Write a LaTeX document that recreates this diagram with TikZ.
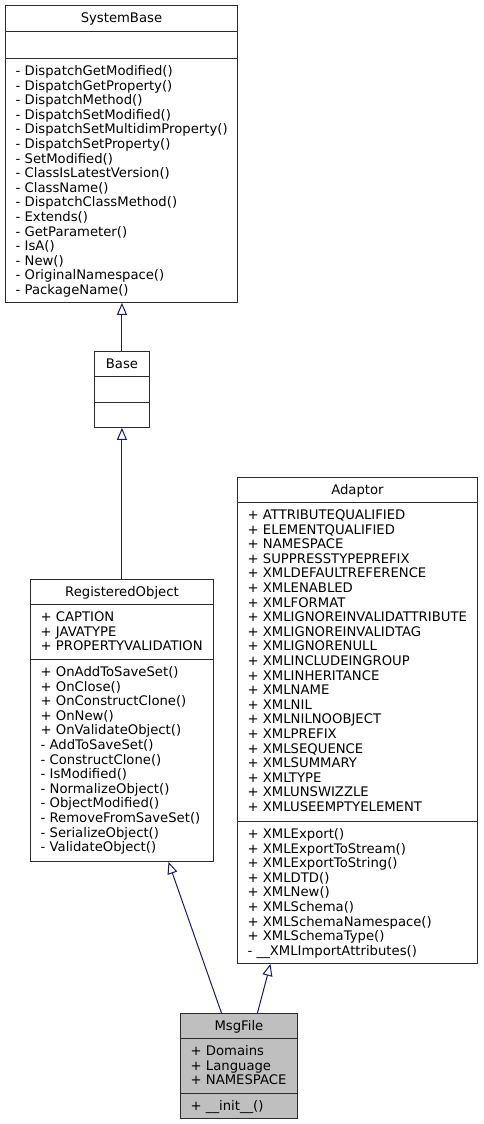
\documentclass[tikz,border=0pt]{standalone}
\usepackage{fontspec}
\setmainfont{DejaVu Sans}
\usepackage{xcolor}
\usepackage{tikz}
\usetikzlibrary{positioning, arrows.meta, calc}

\definecolor{edgeblue}{HTML}{191970}
\definecolor{boxline}{HTML}{2a2a2a}

\begin{document}
\begin{tikzpicture}[
    x=1pt, y=-1pt,
    classbox/.style={rectangle, draw=boxline, fill=white, line width=0.9pt, inner sep=0pt, anchor=north west},
    curclass/.style={classbox, fill=black!25},
    sepline/.style={draw=boxline, line width=0.9pt},
    classname/.style={anchor=base, inner sep=0pt, font=\fontsize{13.2pt}{14.6pt}\selectfont},
    member/.style={anchor=base west, inner sep=0pt, font=\fontsize{13.2pt}{14.6pt}\selectfont},
    inherit/.style={draw=edgeblue, line width=1pt, -{Triangle[open, length=12pt, width=10pt]}},
]
\useasboundingbox[fill=white] (0,0) rectangle (483,1124);

% SystemBase
\node[classbox, minimum width=232pt, minimum height=297pt] (sysbase) at (5,5) {};
\node[classname] at ([yshift=-17.5pt]sysbase.north) {SystemBase};
\draw[sepline] ([yshift=-26pt]sysbase.north west) -- ([yshift=-26pt]sysbase.north east);
\draw[sepline] ([yshift=-53pt]sysbase.north west) -- ([yshift=-53pt]sysbase.north east) coordinate[pos=0] (sb-ops);
\foreach \m [count=\i] in {- DispatchGetModified(), - DispatchGetProperty(), - DispatchMethod(),
    - DispatchSetModified(), - DispatchSetMultidimProperty(), - DispatchSetProperty(),
    - SetModified(), - ClassIsLatestVersion(), - ClassName(), - DispatchClassMethod(),
    - Extends(), - GetParameter(), - IsA(), - New(), - OriginalNamespace(), - PackageName()}
  \node[member] at ($(sb-ops)+(10.5,2.9+\i*14.6)$) {\m};

% Base
\node[classbox, minimum width=55pt, minimum height=76pt] (base) at (94,351) {};
\node[classname] at ([yshift=-17.5pt]base.north) {Base};
\draw[sepline] ([yshift=-25pt]base.north west) -- ([yshift=-25pt]base.north east);
\draw[sepline] ([yshift=-51pt]base.north west) -- ([yshift=-51pt]base.north east);

% RegisteredObject
\node[classbox, minimum width=183pt, minimum height=282pt] (regobj) at (30,579) {};
\node[classname] at ([yshift=-17.5pt]regobj.north) {RegisteredObject};
\draw[sepline] ([yshift=-25pt]regobj.north west) -- ([yshift=-25pt]regobj.north east) coordinate[pos=0] (ro-attr);
\draw[sepline] ([yshift=-80pt]regobj.north west) -- ([yshift=-80pt]regobj.north east) coordinate[pos=0] (ro-ops);
\foreach \m [count=\i] in {+ CAPTION, + JAVATYPE, + PROPERTYVALIDATION}
  \node[member] at ($(ro-attr)+(10.5,2.9+\i*14.6)$) {\m};
\foreach \m [count=\i] in {+ OnAddToSaveSet(), + OnClose(), + OnConstructClone(), + OnNew(),
    + OnValidateObject(), - AddToSaveSet(), - ConstructClone(), - IsModified(),
    - NormalizeObject(), - ObjectModified(), - RemoveFromSaveSet(), - SerializeObject(),
    - ValidateObject()}
  \node[member] at ($(ro-ops)+(10.5,2.9+\i*14.6)$) {\m};

% Adaptor
\node[classbox, minimum width=240pt, minimum height=486pt] (adaptor) at (237,477) {};
\node[classname] at ([yshift=-17.5pt]adaptor.north) {Adaptor};
\draw[sepline] ([yshift=-25pt]adaptor.north west) -- ([yshift=-25pt]adaptor.north east) coordinate[pos=0] (ad-attr);
\draw[sepline] ([yshift=-344pt]adaptor.north west) -- ([yshift=-344pt]adaptor.north east) coordinate[pos=0] (ad-ops);
\foreach \m [count=\i] in {+ ATTRIBUTEQUALIFIED, + ELEMENTQUALIFIED, + NAMESPACE,
    + SUPPRESSTYPEPREFIX, + XMLDEFAULTREFERENCE, + XMLENABLED, + XMLFORMAT,
    + XMLIGNOREINVALIDATTRIBUTE, + XMLIGNOREINVALIDTAG, + XMLIGNORENULL,
    + XMLINCLUDEINGROUP, + XMLINHERITANCE, + XMLNAME, + XMLNIL, + XMLNILNOOBJECT,
    + XMLPREFIX, + XMLSEQUENCE, + XMLSUMMARY, + XMLTYPE, + XMLUNSWIZZLE,
    + XMLUSEEMPTYELEMENT}
  \node[member] at ($(ad-attr)+(10.5,2.9+\i*14.6)$) {\m};
\foreach \m [count=\i] in {+ XMLExport(), + XMLExportToStream(), + XMLExportToString(),
    + XMLDTD(), + XMLNew(), + XMLSchema(), + XMLSchemaNamespace(), + XMLSchemaType(),
    - \_\_XMLImportAttributes()}
  \node[member] at ($(ad-ops)+(10.5,2.9+\i*14.6)$) {\m};

% MsgFile
\node[curclass, minimum width=117pt, minimum height=105pt] (msgfile) at (180,1013) {};
\node[classname] at ([yshift=-17.5pt]msgfile.north) {MsgFile};
\draw[sepline] ([yshift=-25pt]msgfile.north west) -- ([yshift=-25pt]msgfile.north east) coordinate[pos=0] (mf-attr);
\draw[sepline] ([yshift=-80pt]msgfile.north west) -- ([yshift=-80pt]msgfile.north east) coordinate[pos=0] (mf-ops);
\foreach \m [count=\i] in {+ Domains, + Language, + NAMESPACE}
  \node[member] at ($(mf-attr)+(10.5,2.9+\i*14.6)$) {\m};
\node[member] at ($(mf-ops)+(10.5,17.5)$) {+ \_\_init\_\_()};

% Inheritance
\draw[inherit] (base.north) -- (base.north |- sysbase.south);
\draw[inherit] (regobj.north) -- (base.south);
\draw[inherit] ([xshift=-17.5pt]msgfile.north) -- ([xshift=46.5pt]regobj.south);
\draw[inherit] ([xshift=18.5pt]msgfile.north) -- ([xshift=-87pt]adaptor.south);
\end{tikzpicture}
\end{document}
